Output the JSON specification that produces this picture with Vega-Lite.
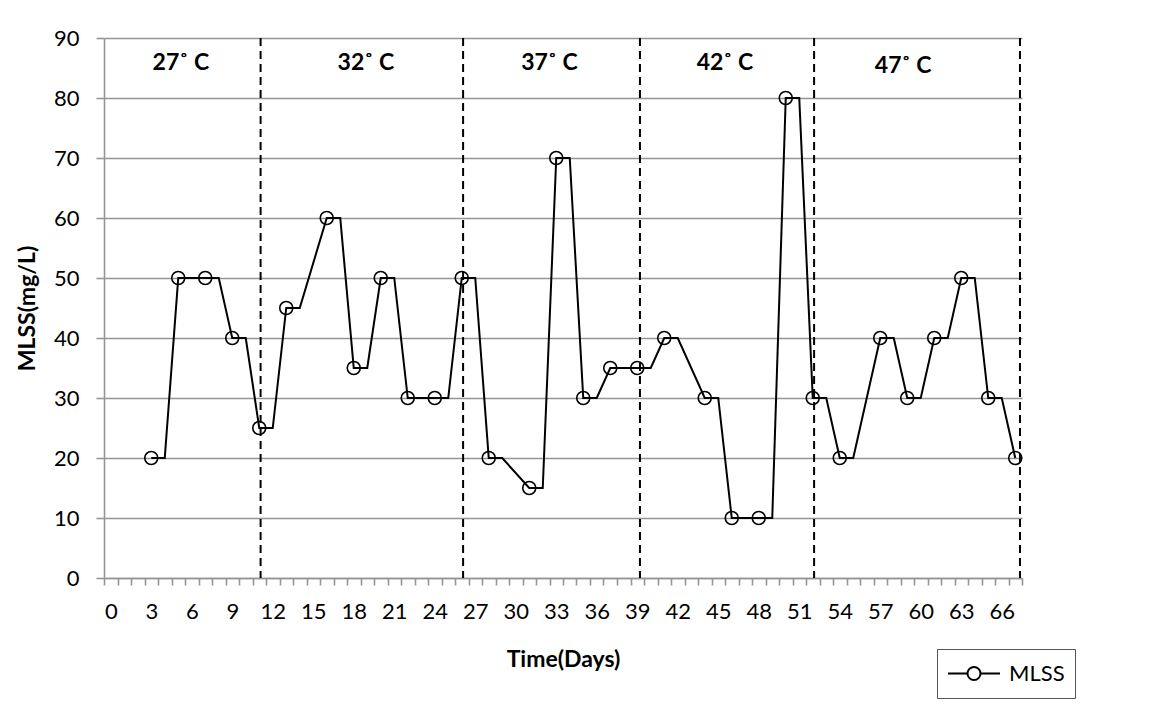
{
  "$schema": "https://vega.github.io/schema/vega-lite/v6.json",
  "width": 918,
  "height": 540,
  "autosize": {"type": "none"},
  "padding": {"left": 104, "top": 38, "right": 133, "bottom": 150},
  "background": "white",
  "config": {"view": {"stroke": null}, "font": "Lato"},
  "datasets": {
    "mlss": [
      {"day": 3, "mlss": 20, "sampled": true}, {"day": 4, "mlss": 20, "sampled": false},
      {"day": 5, "mlss": 50, "sampled": true},
      {"day": 7, "mlss": 50, "sampled": true}, {"day": 8, "mlss": 50, "sampled": false},
      {"day": 9, "mlss": 40, "sampled": true}, {"day": 10, "mlss": 40, "sampled": false},
      {"day": 11, "mlss": 25, "sampled": true}, {"day": 12, "mlss": 25, "sampled": false},
      {"day": 13, "mlss": 45, "sampled": true}, {"day": 14, "mlss": 45, "sampled": false},
      {"day": 16, "mlss": 60, "sampled": true}, {"day": 17, "mlss": 60, "sampled": false},
      {"day": 18, "mlss": 35, "sampled": true}, {"day": 19, "mlss": 35, "sampled": false},
      {"day": 20, "mlss": 50, "sampled": true}, {"day": 21, "mlss": 50, "sampled": false},
      {"day": 22, "mlss": 30, "sampled": true},
      {"day": 24, "mlss": 30, "sampled": true}, {"day": 25, "mlss": 30, "sampled": false},
      {"day": 26, "mlss": 50, "sampled": true}, {"day": 27, "mlss": 50, "sampled": false},
      {"day": 28, "mlss": 20, "sampled": true}, {"day": 29, "mlss": 20, "sampled": false},
      {"day": 31, "mlss": 15, "sampled": true}, {"day": 32, "mlss": 15, "sampled": false},
      {"day": 33, "mlss": 70, "sampled": true}, {"day": 34, "mlss": 70, "sampled": false},
      {"day": 35, "mlss": 30, "sampled": true}, {"day": 36, "mlss": 30, "sampled": false},
      {"day": 37, "mlss": 35, "sampled": true},
      {"day": 39, "mlss": 35, "sampled": true}, {"day": 40, "mlss": 35, "sampled": false},
      {"day": 41, "mlss": 40, "sampled": true}, {"day": 42, "mlss": 40, "sampled": false},
      {"day": 44, "mlss": 30, "sampled": true}, {"day": 45, "mlss": 30, "sampled": false},
      {"day": 46, "mlss": 10, "sampled": true},
      {"day": 48, "mlss": 10, "sampled": true}, {"day": 49, "mlss": 10, "sampled": false},
      {"day": 50, "mlss": 80, "sampled": true}, {"day": 51, "mlss": 80, "sampled": false},
      {"day": 52, "mlss": 30, "sampled": true}, {"day": 53, "mlss": 30, "sampled": false},
      {"day": 54, "mlss": 20, "sampled": true}, {"day": 55, "mlss": 20, "sampled": false},
      {"day": 57, "mlss": 40, "sampled": true}, {"day": 58, "mlss": 40, "sampled": false},
      {"day": 59, "mlss": 30, "sampled": true}, {"day": 60, "mlss": 30, "sampled": false},
      {"day": 61, "mlss": 40, "sampled": true}, {"day": 62, "mlss": 40, "sampled": false},
      {"day": 63, "mlss": 50, "sampled": true}, {"day": 64, "mlss": 50, "sampled": false},
      {"day": 65, "mlss": 30, "sampled": true}, {"day": 66, "mlss": 30, "sampled": false},
      {"day": 67, "mlss": 20, "sampled": true}
    ],
    "phases": [{"day": 11.1}, {"day": 26.1}, {"day": 39.2}, {"day": 52.1}, {"day": 67.35}],
    "temps": [
      {"day": 5.2, "mlss": 85.8, "label": "27˚ C"},
      {"day": 18.9, "mlss": 85.8, "label": "32˚ C"},
      {"day": 32.5, "mlss": 85.8, "label": "37˚ C"},
      {"day": 45.5, "mlss": 85.8, "label": "42˚ C"},
      {"day": 58.7, "mlss": 85.3, "label": "47˚ C"}
    ]
  },
  "encoding": {
    "x": {
      "field": "day", "type": "quantitative",
      "scale": {"domain": [-0.5, 67.5], "nice": false, "zero": false},
      "axis": {
        "title": "Time(Days)",
        "values": [-0.5, 0.5, 1.5, 2.5, 3.5, 4.5, 5.5, 6.5, 7.5, 8.5, 9.5, 10.5, 11.5, 12.5, 13.5, 14.5, 15.5, 16.5, 17.5, 18.5, 19.5, 20.5, 21.5, 22.5, 23.5, 24.5, 25.5, 26.5, 27.5, 28.5, 29.5, 30.5, 31.5, 32.5, 33.5, 34.5, 35.5, 36.5, 37.5, 38.5, 39.5, 40.5, 41.5, 42.5, 43.5, 44.5, 45.5, 46.5, 47.5, 48.5, 49.5, 50.5, 51.5, 52.5, 53.5, 54.5, 55.5, 56.5, 57.5, 58.5, 59.5, 60.5, 61.5, 62.5, 63.5, 64.5, 65.5, 66.5, 67.5],
        "labelExpr": "(datum.value + 0.5) % 3 == 0 ? format(datum.value + 0.5, 'd') : ''",
        "labelOffset": 6.75,
        "labelOverlap": false,
        "labelBound": false,
        "labelFlush": false,
        "grid": false,
        "tickSize": 7, "tickColor": "#959595", "tickWidth": 1.6,
        "domainColor": "#959595", "domainWidth": 1.6,
        "labelFont": "Lato", "labelFontSize": 22, "labelColor": "black", "labelPadding": 16,
        "titleFont": "Lato", "titleFontSize": 23, "titleFontWeight": "bold", "titleColor": "black",
        "titleX": 459, "titleY": 81, "titleAlign": "center", "titleBaseline": "middle"
      }
    }
  },
  "layer": [
    {
      "data": {"name": "mlss"},
      "mark": {"type": "line", "strokeWidth": 2},
      "encoding": {
        "y": {
          "field": "mlss", "type": "quantitative",
          "scale": {"domain": [0, 90], "nice": false},
          "axis": {
            "title": "MLSS(mg/L)",
            "values": [0, 10, 20, 30, 40, 50, 60, 70, 80, 90],
            "grid": true, "gridColor": "#959595", "gridWidth": 1.6,
            "domainColor": "#959595", "domainWidth": 1.6,
            "tickColor": "#959595", "tickWidth": 1.6, "tickSize": 8,
            "labelFont": "Lato", "labelFontSize": 22, "labelColor": "black", "labelPadding": 17,
            "titleFont": "Lato", "titleFontSize": 23, "titleFontWeight": "bold", "titleColor": "black",
            "titleX": -77, "titleY": 270, "titleAngle": -90, "titleAlign": "center", "titleBaseline": "middle"
          }
        },
        "color": {
          "datum": "MLSS", "type": "nominal",
          "scale": {"range": ["black"]},
          "legend": {
            "title": null,
            "orient": "none", "legendX": 833, "legendY": 611,
            "symbolType": "M-1,0H-0.25A0.25,0.25 0 1,1 0.25,0A0.25,0.25 0 1,1 -0.25,0M0.25,0H1",
            "symbolSize": 2704, "symbolStrokeWidth": 2, "symbolFillColor": "white", "symbolStrokeColor": "black",
            "strokeColor": "#555", "padding": 10,
            "labelFont": "Lato", "labelFontSize": 22, "labelColor": "black", "labelOffset": 8,
            "clipHeight": 29
          }
        }
      }
    },
    {
      "data": {"name": "mlss"},
      "transform": [{"filter": "datum.sampled"}],
      "mark": {"type": "point", "shape": "circle", "filled": false, "stroke": "black", "strokeWidth": 1.6, "opacity": 1, "size": 169},
      "encoding": {
        "y": {"field": "mlss", "type": "quantitative"}
      }
    },
    {
      "data": {"name": "phases"},
      "mark": {"type": "rule", "strokeDash": [8, 5], "strokeWidth": 2, "color": "black"}
    },
    {
      "data": {"name": "temps"},
      "mark": {"type": "text", "font": "Lato", "fontSize": 23, "fontWeight": "bold", "color": "black", "align": "center", "baseline": "middle"},
      "encoding": {
        "y": {"field": "mlss", "type": "quantitative"},
        "text": {"field": "label"}
      }
    }
  ]
}
